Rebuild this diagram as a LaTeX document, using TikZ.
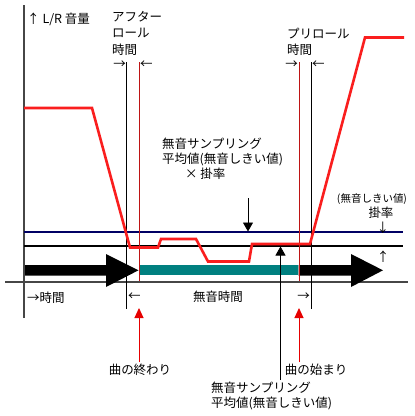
\documentclass[tikz,border=0pt]{standalone}
\usepackage{fontspec}
\setmainfont{Noto Sans CJK JP}
\usetikzlibrary{arrows.meta}
\definecolor{navyline}{RGB}{0,0,100}
\definecolor{tealbar}{RGB}{0,128,128}
\definecolor{markred}{RGB}{190,20,20}
\definecolor{curvered}{RGB}{250,30,30}
\definecolor{arrowred}{RGB}{230,0,0}
\definecolor{axisgray}{RGB}{70,70,70}
\begin{document}
\begin{tikzpicture}[x=1pt,y=-1pt,
  lbl/.style={inner sep=0pt, font=\fontsize{12.5pt}{15pt}\selectfont},
  mlbl/.style={lbl, align=left, anchor=north west},
  wide/.style={font=\fontsize{12.5pt}{16.5pt}\selectfont},
  axisline/.style={line width=2.4pt, draw=axisgray},
  levelline/.style={line width=1.6pt},
  thinmark/.style={line width=0.8pt},
  bigarrow/.style={fill=black},
  pointer/.style={line width=0.8pt, -{Triangle[width=10pt,length=9pt]}},
  redpointer/.style={line width=1pt, draw=arrowred, -{Triangle[width=9pt,length=10pt]}, arrowred},
  curve/.style={line width=2.6pt, draw=curvered}
]
\useasboundingbox[fill=white] (0,0) rectangle (415,416);

% axes
\coordinate (yaxTop) at (24,5);
\coordinate (yaxBot) at (24,318);
\coordinate (xaxL) at (5,282);
\coordinate (xaxR) at (408,282);
\draw[axisline] (yaxBot) -- (yaxTop);
\draw[axisline] (xaxL) -- (xaxR);

% level lines
\coordinate (navyL) at (24,232);
\coordinate (navyR) at (403,232);
\coordinate (blkL) at (24,245.7);
\coordinate (blkR) at (403,245.7);
\draw[levelline, draw=navyline] (navyL) -- (navyR);
\draw[levelline, draw=black] (blkL) -- (blkR);

% big arrows and teal bar
\fill[bigarrow] (25,265) -- (106,265) -- (106,254) -- (138.5,270.3) -- (106,287) -- (106,275.5) -- (25,275.5) -- cycle;
\fill[tealbar] (139,265) rectangle (298,274.7);
\fill[bigarrow] (298.5,265) -- (351,265) -- (351,254) -- (383,270.3) -- (351,287) -- (351,275.5) -- (298.5,275.5) -- cycle;

% vertical marker lines
\coordinate (v1t) at (126.5,62);
\coordinate (v1b) at (126.5,309);
\coordinate (v2t) at (139,62);
\coordinate (v2b) at (139,281);
\coordinate (v3t) at (299,62);
\coordinate (v3b) at (299,281);
\coordinate (v4t) at (311,62);
\coordinate (v4b) at (311,309);
\draw[thinmark, black] (v1t) -- (v1b);
\draw[thinmark, markred] (v2t) -- (v2b);
\draw[thinmark, markred] (v3t) -- (v3b);
\draw[thinmark, black] (v4t) -- (v4b);

% red level curve
\draw[curve] (24,108) -- (92,108) -- (130,247.5) -- (158,247.5) -- (161,239) -- (196,239)
  -- (208,261.5) -- (249,261.5) -- (252,244) -- (310,244) -- (365,37.5) -- (404,37.5);

% pointer arrows
\coordinate (dnS) at (248,198);
\coordinate (dnE) at (248,231.5);
\draw[pointer] (dnS) -- (dnE);
\coordinate (upS) at (280.5,380);
\coordinate (upE) at (280.5,246.5);
\draw[pointer] (upS) -- (upE);
\coordinate (r1S) at (139,362);
\coordinate (r1E) at (139,308);
\draw[redpointer] (r1S) -- (r1E);
\coordinate (r2S) at (299,362);
\coordinate (r2E) at (299,308);
\draw[redpointer] (r2S) -- (r2E);

% labels
\node[lbl, anchor=west] (vol) at (27,19) {↑ L/R 音量};
\node[mlbl, wide] (after) at (112,11) {アフター\\ロール\\時間};
\node[lbl, anchor=east] (aL) at (126,65) {→};
\node[lbl, anchor=west] (aR) at (140,65) {←};
\node[mlbl, wide] (pre) at (287,27.5) {プリロール\\時間};
\node[lbl, anchor=east] (pL) at (298,65) {→};
\node[lbl, anchor=west] (pR) at (312,65) {←};
\node[mlbl] (avgx) at (162,138) {無音サンプリング\\平均値(無音しきい値)\\\hspace{23pt}× 掛率};
\node[mlbl, align=center, anchor=north] (ratio) at (372,193.5) {{\fontsize{10.5pt}{13pt}\selectfont (無音しきい値)}\\\hspace{18pt}掛率\\\hspace{22pt}↓};
\node[lbl] (upr) at (383,257) {↑};
\node[lbl, anchor=west] (time) at (27,298) {→時間};
\node[lbl, anchor=west] (sL) at (128,297) {←};
\node[lbl] (silent) at (218,297) {無音時間};
\node[lbl, anchor=east] (sR) at (310,297) {→};
\node[lbl] (endlbl) at (140,370) {曲の終わり};
\node[lbl] (startlbl) at (316,370) {曲の始まり};
\node[mlbl] (avg) at (211,382) {無音サンプリング\\平均値(無音しきい値)};
\end{tikzpicture}
\end{document}
